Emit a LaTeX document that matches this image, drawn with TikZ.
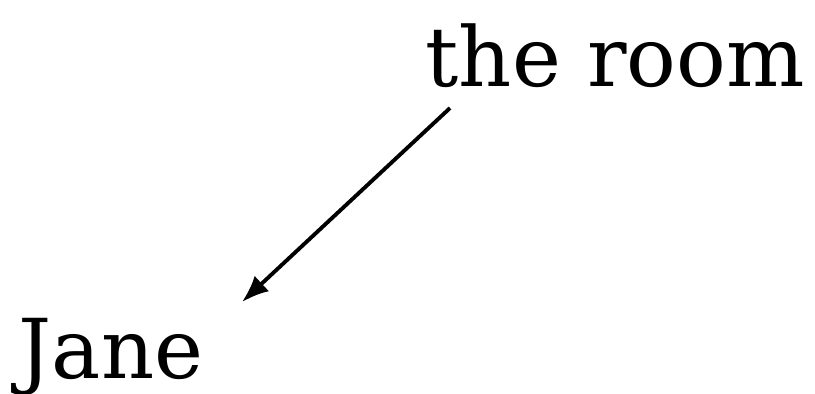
\documentclass[tikz,border=0pt]{standalone}
\usepackage{fontspec}
\setmainfont{DejaVu Serif}
\usepackage{tikz}
\usetikzlibrary{arrows.meta, positioning}

\begin{document}
\begin{tikzpicture}[x=0.01cm, y=-0.01cm,
        word/.style={inner sep=0pt, anchor=base west, font=\fontsize{23.5}{28}\selectfont},
        link/.style={-{Latex[length=0.27cm, width=0.21cm]}, line width=1.1pt}]
        \useasboundingbox (0,0) rectangle (815,393);
        % Words
        \node[word] (room) at (425,86) {the room};
        \node[word] (jane) at (18,378) {Jane};

        % Relation
        \draw[link] ([xshift=0.25cm, yshift=-0.22cm]room.base west) -- ([xshift=0.38cm, yshift=0.15cm]jane.north east);
    \end{tikzpicture}
\end{document}
